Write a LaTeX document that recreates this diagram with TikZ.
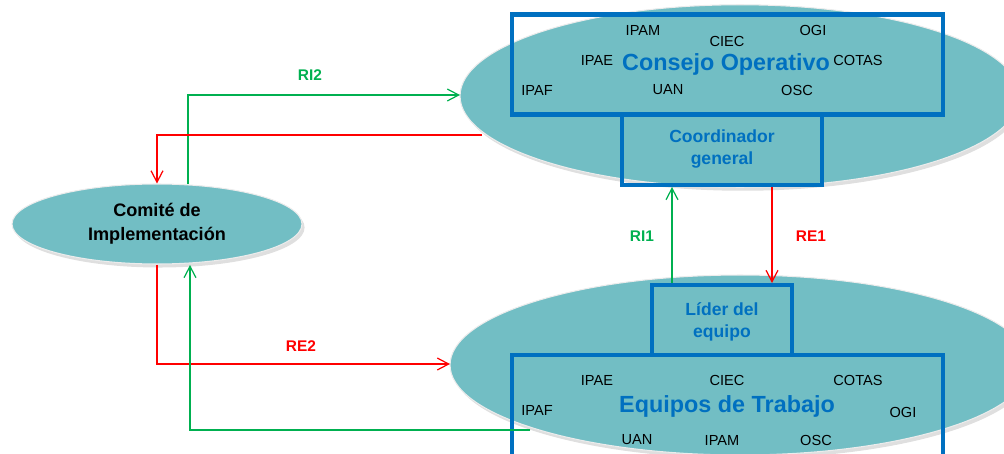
\documentclass[tikz,border=0pt]{standalone}
\usepackage{fontspec}
\setmainfont{Liberation Sans}
\usetikzlibrary{shapes.geometric,arrows.meta,shadows}
\definecolor{teal}{RGB}{114,190,196}
\definecolor{boxblue}{RGB}{0,112,192}
\definecolor{grn}{RGB}{0,176,80}
\definecolor{rd}{RGB}{255,0,0}
\tikzset{
  oval/.style={ellipse,fill=teal,inner sep=0pt,draw=white!85!gray,line width=0.6pt,
    drop shadow={opacity=0.25,shadow xshift=1.5pt,shadow yshift=-2pt}},
  bluebox/.style={rectangle,draw=boxblue,line width=2.3pt,inner sep=0pt},
  small/.style={font=\fontsize{8.3}{10}\selectfont,text=black},
  big/.style={font=\fontsize{13.3}{15}\selectfont\bfseries,text=boxblue},
  mid/.style={font=\fontsize{10}{12.3}\selectfont\bfseries,text=boxblue,align=center},
  lab/.style={font=\fontsize{8.8}{10}\selectfont\bfseries},
  gline/.style={draw=grn,line width=0.7pt,-{Straight Barb[length=6.5pt,width=6.8pt]}},
  rline/.style={draw=rd,line width=0.7pt,-{Straight Barb[length=6.5pt,width=6.8pt]}},
}
\begin{document}
\begin{tikzpicture}[x=0.02cm,y=-0.02cm]
\useasboundingbox (0,0) rectangle (1004,453);
\clip (0,0) rectangle (1004,453);
% ellipses
\node[oval,minimum width=11.2cm,minimum height=3.65cm] (consejoE) at (740,96) {};
\node[oval,minimum width=11.6cm,minimum height=3.6cm] (equiposE) at (740,365) {};
\node[oval,minimum width=5.8cm,minimum height=1.6cm,align=center,
  font=\fontsize{10.3}{13.6}\selectfont\bfseries] (comite) at (157,224) {Comité de\\Implementación};
% boxes
\node[bluebox,minimum width=8.62cm,minimum height=2.0cm] (consejo) at (727.5,64.5) {};
\node[bluebox,minimum width=4.0cm,minimum height=1.42cm] (coord) at (722,149.5) {};
\node[bluebox,minimum width=2.8cm,minimum height=1.4cm] (lider) at (722,320) {};
\node[bluebox,minimum width=8.62cm,minimum height=3.0cm] (equipos) at (727.5,430) {};
% top texts
\node[small] (t1) at (643,30) {IPAM};
\node[small] (t2) at (727,41) {CIEC};
\node[small] (t3) at (813,30) {OGI};
\node[small] (t4) at (597,60) {IPAE};
\node[big] (t5) at (726,64) {Consejo Operativo};
\node[small] (t6) at (858,60) {COTAS};
\node[small] (t7) at (537,90) {IPAF};
\node[small] (t8) at (668,90) {UAN};
\node[small] (t9) at (797,90) {OSC};
\node[mid] (t10) at (722,149) {Coordinador\\general};
% bottom texts
\node[mid] (b0) at (722,322) {Líder del\\equipo};
\node[small] (b1) at (597,380) {IPAE};
\node[small] (b2) at (727,380) {CIEC};
\node[small] (b3) at (858,380) {COTAS};
\node[small] (b4) at (537,410) {IPAF};
\node[big] (b5) at (727,406) {Equipos de Trabajo};
\node[small] (b6) at (903,412) {OGI};
\node[small] (b7) at (637,440) {UAN};
\node[small] (b8) at (722,440) {IPAM};
\node[small] (b9) at (816,440) {OSC};
% connector points
\coordinate (ri2s) at (188,184);
\coordinate (ri2e) at (460,95);
\coordinate (r2s) at (482,135);
\coordinate (gbs) at (530,430);
\coordinate (gbe) at (190,265);
\coordinate (re2e) at (450,364);
\coordinate (xri1) at (672,0);
\coordinate (xre1) at (772,0);
% connectors
\draw[gline] (ri2s) |- (ri2e);
\draw[rline] (r2s) -| (comite.north);
\draw[rline] (comite.south) |- (re2e);
\draw[gline] (gbs) -| (gbe);
\draw[gline] (lider.north -| xri1) -- (coord.south -| xri1);
\draw[rline] (coord.south -| xre1) -- (lider.north -| xre1);
% labels
\node[lab,text=grn] (l1) at (310,75) {RI2};
\node[lab,text=rd] (l2) at (301,346) {RE2};
\node[lab,text=grn] (l3) at (642,236) {RI1};
\node[lab,text=rd] (l4) at (811,236) {RE1};
\end{tikzpicture}
\end{document}
